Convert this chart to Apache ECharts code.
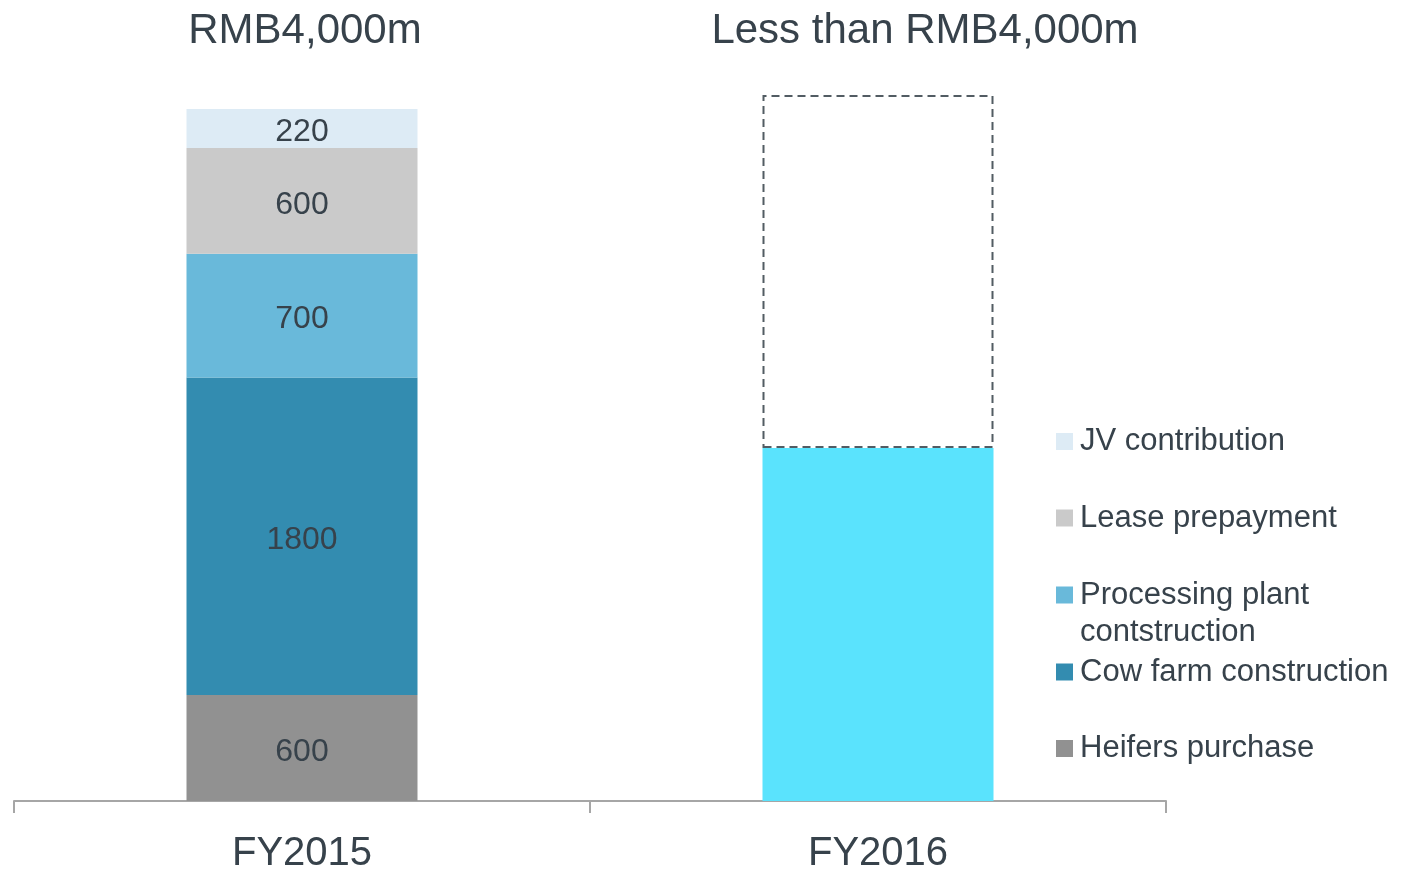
<!DOCTYPE html>
<html>
<head>
<meta charset="utf-8">
<script src="https://cdn.jsdelivr.net/npm/echarts@6/dist/echarts.min.js"></script>
<style>
  html, body { margin: 0; padding: 0; background: #fff; }
  #chart { width: 1402px; height: 870px; }
</style>
</head>
<body>
<div id="chart"></div>
<script>
// data
var categories = ['FY2015', 'FY2016'];
var heifers = [600, null];
var cowFarm = [1800, null];
var processing = [700, null];
var lease = [600, null];
var jv = [220, null];
var fy2016Spend = [null, 2000];
var fy2016Rest = [null, 2000];   // dashed "up to 4,000" box
var headTitles = ['RMB4,000m', 'Less than RMB4,000m'];

var txt = '#37424b';
var font = 'Liberation Sans, Arial, sans-serif';

function seg(name, data, color) {
  return {
    name: name,
    type: 'bar',
    stack: 'total',
    barWidth: 231,
    data: data,
    itemStyle: { color: color },
    label: {
      show: true,
      position: 'inside',
      offset: [0, 4],
      color: txt,
      fontSize: 32,
      fontFamily: font,
      formatter: function (p) { return p.value; }
    }
  };
}

// one legend per item so spacing stays even
function leg(name, top) {
  return {
    data: [name],
    left: 1056,
    top: top,
    padding: 0,
    icon: 'rect',
    itemWidth: 17,
    itemHeight: 17,
    itemGap: 0,
    selectedMode: false,
    formatter: function (n) {
      // two-line names: blank first line so the icon sits beside the first text line
      return n.indexOf('\n') >= 0 ? ' \n' + n : n;
    },
    textStyle: { color: txt, fontSize: 31, lineHeight: 37, fontFamily: font, padding: [0, 0, 0, 2] }
  };
}

var chart = echarts.init(document.getElementById('chart'));
chart.setOption({
  animation: false,
  title: [
    { text: headTitles[0], left: 305, top: 8, padding: 0, textAlign: 'center',
      textStyle: { color: txt, fontSize: 42, fontWeight: 'normal', fontFamily: font, lineHeight: 46 } },
    { text: headTitles[1], left: 925, top: 8, padding: 0, textAlign: 'center',
      textStyle: { color: txt, fontSize: 42, fontWeight: 'normal', fontFamily: font, lineHeight: 46 } }
  ],
  legend: [
    leg('JV contribution', 423),
    leg('Lease prepayment', 499.5),
    leg('Processing plant\ncontstruction', 539.5),
    leg('Cow farm construction', 653.5),
    leg('Heifers purchase', 730)
  ],
  grid: { left: 14, right: 236, top: 95, bottom: 69, containLabel: false, outerBoundsMode: 'none' },
  xAxis: {
    type: 'category',
    data: categories,
    axisLine: { lineStyle: { color: '#a6a6a6', width: 2 } },
    axisTick: { show: true, length: 12, lineStyle: { color: '#a6a6a6', width: 2 } },
    axisLabel: { color: txt, fontSize: 40, lineHeight: 40, margin: 33, fontFamily: font }
  },
  yAxis: { type: 'value', min: 0, max: 4000, show: false },
  series: [
    seg('Heifers purchase', heifers, '#919191'),
    seg('Cow farm construction', cowFarm, '#338cb0'),
    seg('Processing plant\ncontstruction', processing, '#69b9da'),
    seg('Lease prepayment', lease, '#cacaca'),
    seg('JV contribution', jv, '#ddebf5'),
    {
      name: 'FY2016 spend', type: 'bar', stack: 'total', barWidth: 231,
      data: fy2016Spend, itemStyle: { color: '#5ae3fd' }
    },
    {
      name: 'FY2016 remaining', type: 'bar', stack: 'total', barWidth: 231,
      data: fy2016Rest,
      itemStyle: { color: 'rgba(0,0,0,0)', borderColor: '#525c63', borderWidth: 2, borderType: [8, 5] }
    }
  ]
});
</script>
</body>
</html>
